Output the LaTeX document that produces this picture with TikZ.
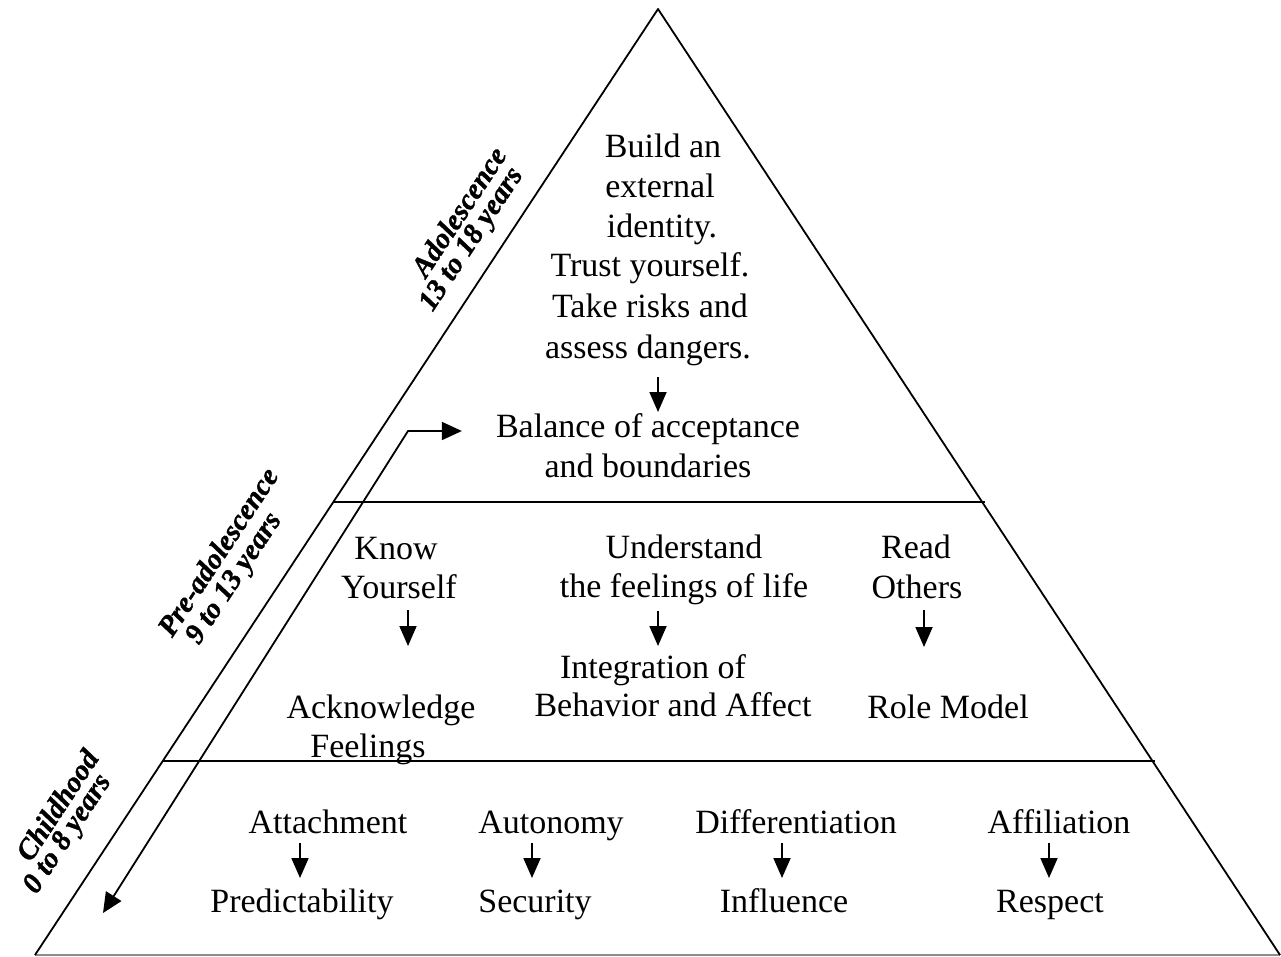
\documentclass[tikz,border=0pt]{standalone}
\usepackage{fontspec}
\setmainfont{Liberation Serif}
\newfontfamily\agefont[FakeBold=1.2]{Liberation Serif Bold Italic}
\usetikzlibrary{arrows.meta}
\begin{document}
\begin{tikzpicture}[x=1pt,y=-1pt,
  leg/.style={line width=1.8pt, line join=round},
  tier/.style={line width=1.8pt},
  ground/.style={line width=1.5pt, draw=black!45},
  txt/.style={anchor=base, inner sep=0pt, font=\fontsize{34}{39}\selectfont},
  age/.style={inner sep=0pt, rotate=56.6, font=\agefont\fontsize{29}{30}\selectfont},
  dn/.style={line width=1.8pt, -{Triangle[length=20pt,width=17pt]}},
  route/.style={line width=1.8pt, line join=miter,
    {Triangle[length=20pt,width=18pt]}-{Triangle[length=20pt,width=18pt]}}
]
% canvas
\fill[white] (0,0) rectangle (1281,957);
\useasboundingbox (0,0) rectangle (1281,957);

% pyramid outline and tiers
\coordinate (apex) at (658,9);
\coordinate (lfoot) at (35,955);
\coordinate (rfoot) at (1280,955);
\draw[ground] (lfoot) -- (rfoot);
\draw[leg] (lfoot) -- (apex) -- (rfoot);
\coordinate (t1l) at (333,502);
\coordinate (t1r) at (985,502);
\coordinate (t2l) at (163,761);
\coordinate (t2r) at (1155,761);
\draw[tier] (t1l) -- (t1r);
\draw[tier] (t2l) -- (t2r);

% top tier
\node[txt] (b1) at (663,158) {Build an};
\node[txt] (b2) at (660,198) {external};
\node[txt] (b3) at (662,238) {identity.};
\node[txt] (t1) at (650,277) {Trust yourself.};
\node[txt] (t2) at (650,317) {Take risks and};
\node[txt] (t3) at (648,358) {assess dangers.};
\node[txt] (bal1) at (648,437) {Balance of acceptance};
\node[txt] (bal2) at (648,477) {and boundaries};
\draw[dn] ([xshift=10pt,yshift=-19pt]t3.base) -- ++(0,35);

% middle tier
\node[txt] (k1) at (396,559) {Know};
\node[txt] (k2) at (399,598) {Yourself};
\node[txt] (ack1) at (381,718) {Acknowledge};
\node[txt] (ack2) at (368,757) {Feelings};
\draw[dn] ([xshift=9pt,yshift=-12pt]k2.base) -- ++(0,36);

\node[txt] (u1) at (684,558) {Understand};
\node[txt] (u2) at (684,597) {the feelings of life};
\node[txt] (int1) at (653,678) {Integration of};
\node[txt] (int2) at (673,716) {Behavior and Affect};
\draw[dn] ([xshift=-26pt,yshift=-14pt]u2.base) -- ++(0,35);

\node[txt] (r1) at (916,558) {Read};
\node[txt] (r2) at (917,598) {Others};
\node[txt] (role) at (948,718) {Role Model};
\draw[dn] ([xshift=7pt,yshift=-12pt]r2.base) -- ++(0,37);

% bottom tier
\node[txt] (att) at (328,833) {Attachment};
\node[txt] (pred) at (302,912) {Predictability};
\draw[dn] ([xshift=-28pt,yshift=-10pt]att.base) -- ++(0,35);

\node[txt] (aut) at (551,833) {Autonomy};
\node[txt] (sec) at (535,912) {Security};
\draw[dn] ([xshift=-19pt,yshift=-10pt]aut.base) -- ++(0,35);

\node[txt] (dif) at (796,833) {Differentiation};
\node[txt] (infl) at (784,912) {Influence};
\draw[dn] ([xshift=-14pt,yshift=-10pt]dif.base) -- ++(0,35);

\node[txt] (aff) at (1059,833) {Affiliation};
\node[txt] (resp) at (1050,912) {Respect};
\draw[dn] ([xshift=-10pt,yshift=-10pt]aff.base) -- ++(0,35);

% developmental path along the left side
\coordinate (turn) at (408,431);
\coordinate (low) at (103,913);
\draw[route, shorten >=34pt] (low) -- (turn) -- (turn -| bal1.west);

% age bands
\node[age] (ad1) at (458.5,211.5) {Adolescence};
\node[age] (ad2) at (472.5,240) {13 to 18 years};
\node[age] (pre1) at (217.5,551.5) {Pre-adolescence};
\node[age] (pre2) at (235,579) {9 to 13 years};
\node[age] (ch1) at (57,805) {Childhood};
\node[age] (ch2) at (68.5,834.5) {0 to 8 years};
\end{tikzpicture}
\end{document}
